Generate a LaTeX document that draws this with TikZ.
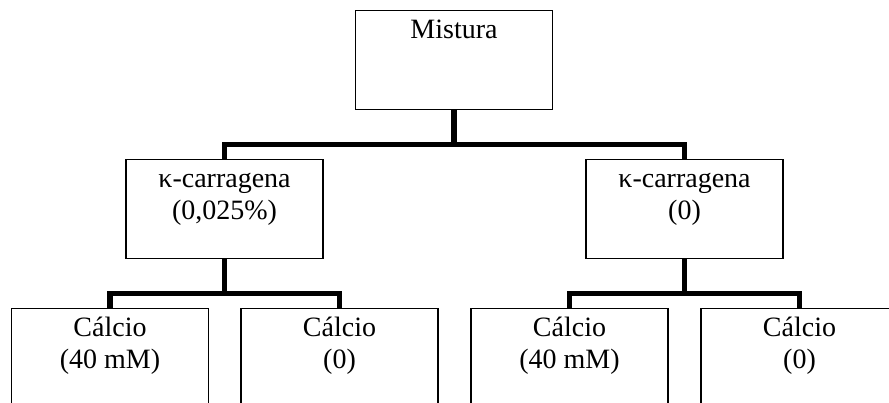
\documentclass[tikz,border=0pt]{standalone}
\usepackage{fontspec}
\setmainfont{Liberation Serif}

\begin{document}
\begin{tikzpicture}[x=1pt, y=1pt,
  box/.style = {draw, line width=1.5pt, minimum width=197pt, minimum height=99pt, anchor=north, inner sep=0pt},
  txt/.style = {anchor=north, align=center, inner sep=6pt, font=\fontsize{28}{32}\selectfont},
  link/.style = {line width=5.5pt}]
\useasboundingbox (0,0) rectangle (889,-403);
\clip (0,0) rectangle (889,-403);
% boxes
\node[box] (mix) at (454,-10) {};
\node[box] (kap1) at (224.5,-159) {};
\node[box] (kap0) at (684.5,-159) {};
\node[box] (ca1) at (110,-308) {};
\node[box] (ca2) at (339.5,-308) {};
\node[box] (ca3) at (569.5,-308) {};
\node[box] (ca4) at (799.5,-308) {};
% texts
\node[txt] (mixt) at (mix.north) {\strut Mistura};
\node[txt] (kap1t) at (kap1.north) {\strut κ-carragena\\(0,025\%)};
\node[txt] (kap0t) at (kap0.north) {\strut κ-carragena\\(0)};
\node[txt] (ca1t) at (ca1.north) {\strut Cálcio\\(40 mM)};
\node[txt] (ca2t) at (ca2.north) {\strut Cálcio\\(0)};
\node[txt] (ca3t) at (ca3.north) {\strut Cálcio\\(40 mM)};
\node[txt] (ca4t) at (ca4.north) {\strut Cálcio\\(0)};
% connectors
\draw[link] (mix.south) -- ++(0,-34) coordinate (j0);
\draw[link] (kap1.north) |- (j0) -| (kap0.north);
\draw[link] (kap1.south) -- ++(0,-34) coordinate (j1);
\draw[link] (ca1.north) |- (j1) -| (ca2.north);
\draw[link] (kap0.south) -- ++(0,-34) coordinate (j2);
\draw[link] (ca3.north) |- (j2) -| (ca4.north);
\end{tikzpicture}
\end{document}
